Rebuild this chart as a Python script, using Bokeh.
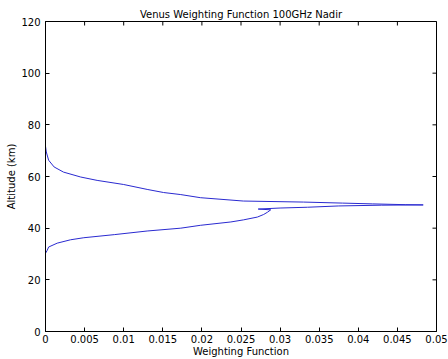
import math
from bokeh.plotting import figure
from bokeh.models import LinearAxis, FixedTicker, Range1d
from bokeh.embed import file_html
from bokeh.resources import INLINE

# Weighting function profile, ordered from the bottom up
weighting = [0.0000, 0.0002, 0.0004, 0.0015, 0.0032, 0.0049, 0.0088, 0.0130,
             0.0173, 0.0198, 0.0237, 0.0253, 0.0271, 0.0279, 0.0284, 0.0288,
             0.0272, 0.0300, 0.0335, 0.0375, 0.0430, 0.0483, 0.0460, 0.0418,
             0.0380, 0.0330, 0.0253, 0.0198, 0.0173, 0.0151, 0.0130, 0.0100,
             0.0066, 0.0045, 0.0023, 0.0011, 0.0004, 0.0001, 0.0000]
altitude = [30.3, 31.3, 32.7, 34.2, 35.5, 36.3, 37.5, 38.9,
            40.0, 41.1, 42.4, 43.2, 44.3, 45.3, 46.2, 47.1,
            47.4, 47.8, 48.1, 48.6, 48.9, 49.0, 49.1, 49.4,
            49.7, 50.1, 50.5, 51.8, 53.0, 53.8, 55.0, 56.9,
            58.5, 59.8, 61.7, 63.7, 66.3, 69.5, 71.7]

x_ticks = [0, 0.005, 0.01, 0.015, 0.02, 0.025, 0.03, 0.035, 0.04, 0.045, 0.05]
x_tick_labels = ["0", "0.005", "0.01", "0.015", "0.02", "0.025", "0.03",
                 "0.035", "0.04", "0.045", "0.05"]
y_ticks = [0, 20, 40, 60, 80, 100, 120]

FONT = "DejaVu Sans"
FS = "10px"

p = figure(width=448, height=359, output_backend="svg", toolbar_location=None,
           x_range=Range1d(x_ticks[0], x_ticks[-1]),
           y_range=Range1d(y_ticks[0], y_ticks[-1]),
           x_axis_location=None, y_axis_location=None,
           min_border_left=45, min_border_right=12, min_border_top=21,
           min_border_bottom=28)
p.title.text = "Venus Weighting Function 100GHz Nadir"
p.title.align = "center"
p.title.text_font = FONT
p.title.text_font_size = FS
p.title.text_font_style = "normal"
p.title.text_color = "black"
p.title.standoff = 3
p.title.offset = 0
p.grid.visible = False
p.background_fill_color = "white"
p.border_fill_color = "white"
p.outline_line_color = "black"
p.outline_line_alpha = 1.0


def style(ax):
    ax.major_tick_in = 4
    ax.major_tick_out = 0
    ax.minor_tick_line_color = None
    ax.axis_line_color = "black"
    ax.major_tick_line_color = "black"
    ax.major_label_text_font = FONT
    ax.major_label_text_font_size = FS
    ax.major_label_text_color = "black"
    ax.axis_label_text_font = FONT
    ax.axis_label_text_font_size = FS
    ax.axis_label_text_font_style = "normal"
    ax.axis_label_text_color = "black"


xb = LinearAxis(ticker=FixedTicker(ticks=x_ticks), axis_label="Weighting Function")
xb.major_label_overrides = {t: l for t, l in zip(x_ticks, x_tick_labels)}
style(xb)
xb.major_label_standoff = 3
xb.axis_label_standoff = 0
yl = LinearAxis(ticker=FixedTicker(ticks=y_ticks), axis_label="Altitude (km)")
style(yl)
yl.major_label_standoff = 5
yl.axis_label_standoff = 1
p.add_layout(xb, "below")
p.add_layout(yl, "left")

# inward ticks on the top and right edges (markers clipped by the frame)
p.scatter(x_ticks, [y_ticks[-1]] * len(x_ticks), marker="dash", size=8,
          angle=math.pi / 2, line_color="black", line_width=1)
p.scatter([x_ticks[-1]] * len(y_ticks), y_ticks, marker="dash", size=8,
          line_color="black", line_width=1)

p.line(weighting, altitude, line_color="#2a2ad0", line_width=1)

open("out.html", "w").write(file_html(p, INLINE))
